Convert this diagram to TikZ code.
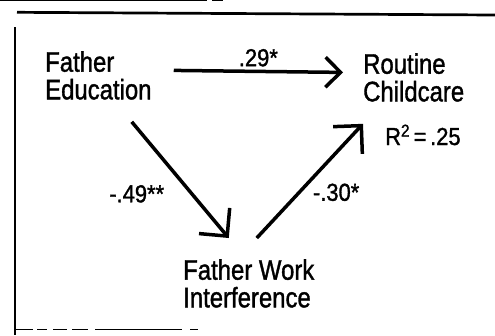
\documentclass[tikz,border=0pt]{standalone}
\usepackage{fontspec}
\setmainfont[FakeBold=1.4]{Liberation Sans}
\usetikzlibrary{arrows.meta,positioning}

\tikzset{
  var/.style={align=left, anchor=north west, inner sep=0pt, yscale=1.18, transform shape,
    font=\fontsize{24}{23.5}\selectfont},
  coef/.style={inner sep=0pt, yscale=1.12, transform shape, font=\fontsize{22}{24}\selectfont},
  effect/.style={line width=3.5bp, -{Straight Barb[length=15bp,width=30bp]}},
  bigeffect/.style={line width=3.5bp, -{Straight Barb[length=20bp,width=40bp]}},
}

\begin{document}
\begin{tikzpicture}[x=1bp,y=-1bp]
    \useasboundingbox (0,0) rectangle (495,335);
    % frame of the scanned figure
    \draw[line width=0.8bp] (0,0.6) -- (207,0.6) (212,0.6) -- (223,0.6);
    \draw[line width=2.7bp] (17,12.3) -- (495,15);
    \draw[line width=1.8bp] (15,27) -- (15,335);
    \draw[line width=1bp] (15,329.5) -- (33,329.5) (37,329.5) -- (47,329.5) (53,329.5) -- (67,329.5)
        (72,329.5) -- (88,329.5) (95,329.5) -- (182,329.5) (190,329.5) -- (198,329.5);
    % variables
    \node[var] (fedu) at (45,51) {Father\\Education};
    \node[var] (rcc) at (363,53) {Routine\\Childcare};
    \node[var] (fwi) at (183,259) {Father Work\\Interference};
    \node[coef, anchor=base west] (rsq) at (385,145) {R\textsuperscript{2}\,=\,.25};
    % paths
    \draw[effect] ([xshift=22bp,yshift=5bp]fedu.east) -- ([xshift=-20bp,yshift=5bp]rcc.west)
        node[midway, above=3bp, coef] {.29*};
    \draw[bigeffect] ([xshift=-20bp,yshift=-22bp]fedu.south east) -- ([xshift=-20bp,yshift=21bp]fwi.north)
        node[pos=0.62, left=26bp, coef] {-.49**};
    \draw[bigeffect] ([xshift=8bp,yshift=21bp]fwi.north) -- ([yshift=-22bp]rcc.south west)
        node[pos=0.4, right=12bp, coef] {-.30*};
\end{tikzpicture}
\end{document}
